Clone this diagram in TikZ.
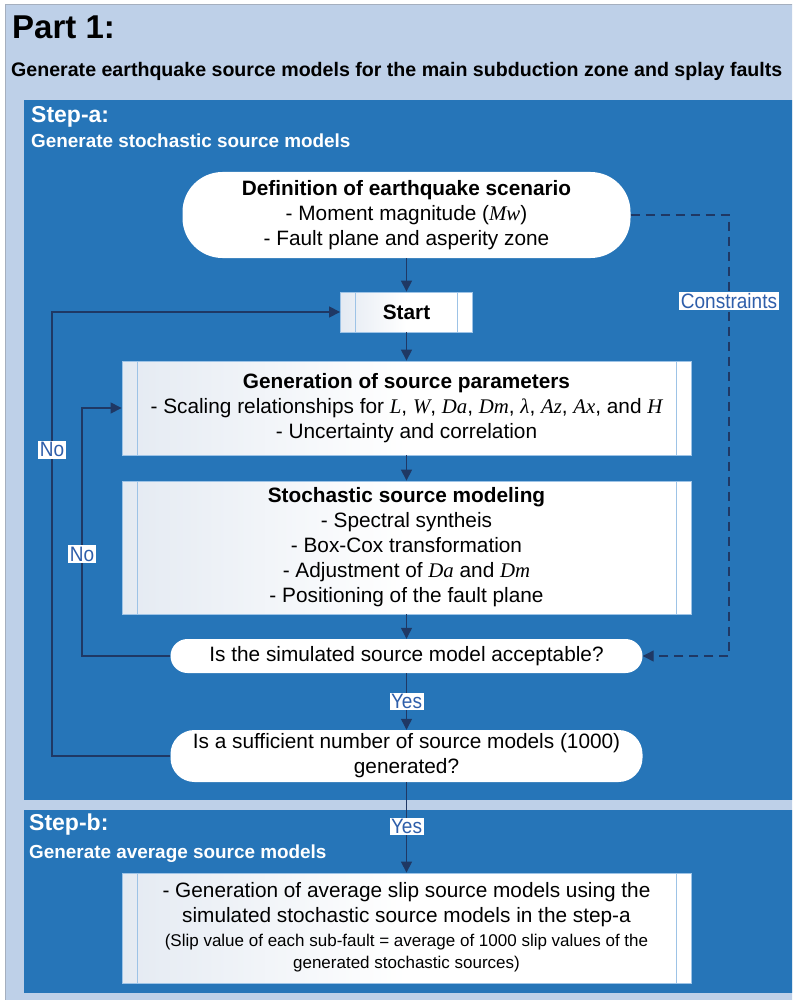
\documentclass[tikz,border=0pt]{standalone}
\usepackage{fontspec}
\setmainfont{Liberation Sans}
\newfontfamily\tnr{Liberation Serif}
\usetikzlibrary{arrows.meta}
\definecolor{bgblue}{RGB}{190,208,232}
\definecolor{outerline}{RGB}{165,175,190}
\definecolor{panel}{RGB}{38,117,184}
\definecolor{navy}{RGB}{31,56,100}
\definecolor{labblue}{RGB}{46,94,170}
\definecolor{boxline}{RGB}{157,195,230}
\definecolor{fadeblue}{RGB}{228,234,242}
\newcommand{\mi}[1]{{\tnr\itshape #1}}
\newcommand{\boxfont}{\fontsize{20.8}{25}\selectfont}
\begin{document}
\begin{tikzpicture}[x=1pt,y=-1pt,
  procbox/.style={rectangle, draw=boxline, line width=0.8pt, left color=fadeblue, right color=white, middle color=white,
    inner sep=0pt, align=center, font=\boxfont,
    path picture={\draw[boxline, line width=0.8pt]
      ([xshift=15pt]path picture bounding box.north west) -- ([xshift=15pt]path picture bounding box.south west)
      ([xshift=-15pt]path picture bounding box.north east) -- ([xshift=-15pt]path picture bounding box.south east);}},
  termbox/.style={rectangle, fill=white, draw=none, align=center, font=\boxfont, inner sep=0pt},
  arr/.style={draw=navy, line width=1.2pt, -{Triangle[length=11pt,width=11pt]}},
  dasharr/.style={arr, dash pattern=on 9pt off 6pt},
  lab/.style={fill=white, text=labblue, font=\fontsize{19}{22}\selectfont, inner sep=1.5pt, yscale=1.1},
  title/.style={anchor=base west, text=white, font=\bfseries\fontsize{#1}{#1}\selectfont, inner sep=0pt}
]
\useasboundingbox (0,0) rectangle (792,1000);
\clip (0,0) rectangle (792,1000);
\fill[white] (0,0) rectangle (792,1000);
\filldraw[fill=bgblue, draw=outerline, line width=1pt] (5,5) rectangle (820,1020);
\fill[panel] (24,100) rectangle (820,800);
\fill[panel] (24,810) rectangle (820,993);

\node[anchor=base west, inner sep=0pt, font=\bfseries\fontsize{33}{36}\selectfont] (part) at (12,39) {Part 1:};
\node[anchor=base west, inner sep=0pt, font=\bfseries\fontsize{19.6}{22}\selectfont] (sub) at (11,77) {Generate earthquake source models for the main subduction zone and splay faults};
\node[title=23] (stepa) at (31,123) {Step-a:};
\node[title=18.9] (stepadesc) at (31,148) {Generate stochastic source models};
\node[title=23] (stepb) at (29,830) {Step-b:};
\node[title=18.9] (stepbdesc) at (29,858) {Generate average source models};

\node[termbox, minimum width=448pt, minimum height=86pt, rounded corners=40pt] (def) at (406.5,215)
  {\textbf{Definition of earthquake scenario}\\ - Moment magnitude (\mi{Mw})\\ - Fault plane and asperity zone};
\node[procbox, minimum width=132pt, minimum height=40pt] (start) at (406.5,312) {\textbf{Start}};
\node[procbox, minimum width=569pt, minimum height=94pt] (gen) at (406.5,408)
  {\textbf{Generation of source parameters}\\ - Scaling relationships for \mi{L}, \mi{W}, \mi{Da}, \mi{Dm}, \mi{λ}, \mi{Az}, \mi{Ax}, and \mi{H}\\ - Uncertainty and correlation};
\node[procbox, minimum width=569pt, minimum height=133pt] (stoch) at (406.5,547.5)
  {\textbf{Stochastic source modeling}\\ - Spectral syntheis\\ - Box-Cox transformation\\ - Adjustment of \mi{Da} and \mi{Dm}\\ - Positioning of the fault plane};
\node[termbox, minimum width=472pt, minimum height=34pt, rounded corners=17pt] (acc) at (406.5,656)
  {Is the simulated source model acceptable?};
\node[termbox, minimum width=472pt, minimum height=52pt, rounded corners=24pt] (suff) at (406.5,756)
  {Is a sufficient number of source models (1000)\\ generated?};
\node[procbox, minimum width=569pt, minimum height=110pt] (avg) at (406.5,928) {};
\node[align=center, inner sep=0pt, font=\boxfont] (avgt1) at (406.5,905)
  {- Generation of average slip source models using the\\ simulated stochastic source models in the step-a};
\node[align=center, inner sep=0pt, font=\fontsize{17}{22}\selectfont] (avgt2) at (406.5,953)
  {(Slip value of each sub-fault = average of 1000 slip values of the\\ generated stochastic sources)};

\coordinate (o1) at (52,756);
\coordinate (o2) at (52,312);
\coordinate (i1) at (82,656);
\coordinate (i2) at (82,408);
\coordinate (d1) at (729,215);
\coordinate (d2) at (729,656);

\draw[arr] (def) -- (start);
\draw[arr] (start) -- (gen);
\draw[arr] (gen) -- (stoch);
\draw[arr] (stoch) -- (acc);
\draw[arr] (acc) -- node[lab] (yes1) {Yes} (suff);
\draw[arr] (suff) -- node[lab, pos=0.49] (yes2) {Yes} (avg);
\draw[arr] (suff.west) -- (o1) -- node[lab, pos=0.69] (no1) {No} (o2) -- (start.west);
\draw[arr] (acc.west) -- (i1) -- node[lab, pos=0.41] (no2) {No} (i2) -- (gen.west);
\draw[dasharr] (def.east) -- (d1) -- node[lab, pos=0.195] (cons) {Constraints} (d2) -- (acc.east);
\end{tikzpicture}
\end{document}
